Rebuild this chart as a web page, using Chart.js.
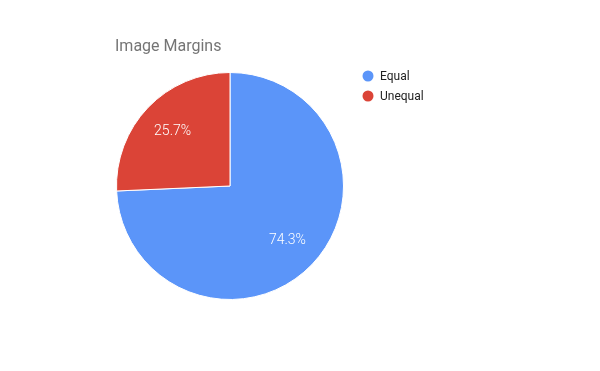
<!DOCTYPE html>
<html>
<head>
<meta charset="utf-8">
<script src="https://cdn.jsdelivr.net/npm/chart.js@4/dist/chart.umd.min.js"></script>
<style>
  html, body { margin: 0; padding: 0; background: #fff; }
  #wrap { width: 600px; height: 371px; }
</style>
</head>
<body>
<div id="wrap"><canvas id="c" width="600" height="371"></canvas></div>
<script>
var title = "Image Margins";
var labels = ["Equal", "Unequal"];
var values = [74.3, 25.7];
var colors = ["#5b95f9", "#db4437"];

// title, legend and slice labels drawn in Google Charts style
var decor = {
    id: "decor",
    afterDatasetsDraw: function (chart) {
        let ctx = chart.ctx;
        ctx.save();
        // slice labels
        let meta = chart.getDatasetMeta(0);
        let total = values.reduce(function (a, b) { return a + b }, 0);
        ctx.font = "300 14px Roboto";
        ctx.fillStyle = "#ffffff";
        ctx.textAlign = "center";
        ctx.textBaseline = "middle";
        meta.data.forEach(function (arc, i) {
            let mid = (arc.startAngle + arc.endAngle) / 2;
            let r = arc.outerRadius * 0.7;
            let pct = (values[i] / total * 100).toFixed(1) + "%";
            ctx.fillText(pct, arc.x + Math.cos(mid) * r, arc.y + Math.sin(mid) * r);
        });
        // title
        ctx.textAlign = "left";
        ctx.textBaseline = "alphabetic";
        ctx.font = "16px Roboto";
        ctx.fillStyle = "#757575";
        ctx.fillText(title, 115, 51);
        // legend
        ctx.font = "12px Roboto";
        labels.forEach(function (lab, i) {
            let y = 76 + i * 20;
            ctx.fillStyle = colors[i];
            ctx.beginPath();
            ctx.arc(368, y, 5.5, 0, Math.PI * 2);
            ctx.fill();
            ctx.fillStyle = "#222222";
            ctx.textBaseline = "middle";
            ctx.fillText(lab, 380, y + 0.5);
        });
        ctx.restore();
    }
};

new Chart(document.getElementById("c").getContext("2d"), {
    type: "pie",
    data: {
        labels: labels,
        datasets: [
            {
                data: values,
                backgroundColor: colors,
                borderColor: "#ffffff",
                borderWidth: 1
            }
        ]
    },
    options: {
        responsive: false,
        animation: false,
        layout: {
            padding: { left: 116, right: 256, top: 72, bottom: 71 }
        },
        plugins: {
            legend: { display: false },
            title: { display: false },
            tooltip: { enabled: false }
        }
    },
    plugins: [decor]
});
</script>
</body>
</html>
